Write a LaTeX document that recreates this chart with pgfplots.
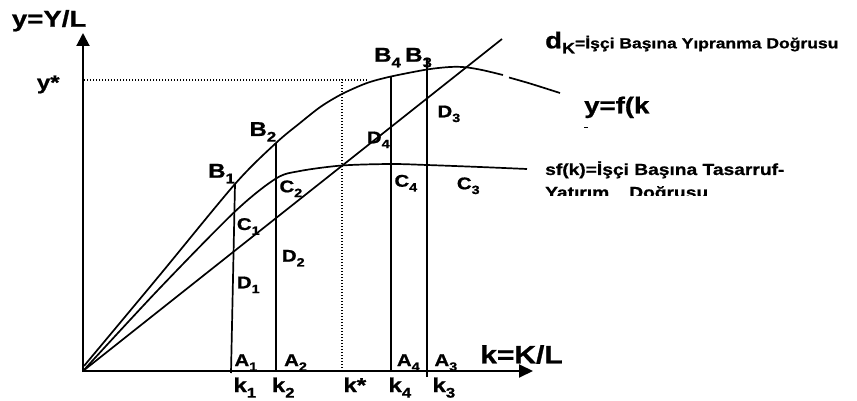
\documentclass[border=0pt]{standalone}
\usepackage{graphicx}
\usepackage{fontspec}
\setmainfont{Liberation Sans}[BoldFeatures={FakeBold=0.8}]
\usepackage{pgfplots}
\pgfplotsset{compat=1.18}
\usetikzlibrary{arrows.meta}
\tikzset{lbl/.style={inner sep=0pt, anchor=base west, font=\bfseries}}
\newcommand{\SX}[1]{\scalebox{1.2}[1]{#1}}
\newcommand{\fs}[1]{\fontsize{#1}{#1}\selectfont}
\newcommand{\sub}[2][12]{\raisebox{-0.28em}{\fontsize{#1}{#1}\selectfont #2}}
\begin{document}
\begin{tikzpicture}
\begin{axis}[
  scale only axis, width=857pt, height=401pt,
  xmin=0, xmax=857, ymin=0, ymax=401, y dir=reverse,
  hide axis, clip=false,
]
% axes
\addplot[line width=2pt, -{Triangle[length=13pt,width=13pt]}] coordinates {(83,372) (83,33)};
\addplot[line width=2pt, -{Triangle[length=14pt,width=13pt]}] coordinates {(82,371) (533,371)};
% f(k)
\addplot[line width=1.7pt, smooth, tension=0.5] coordinates {
 (84,366) (159,276) (235,184) (276,143) (300,123) (321,106.5) (342,94)
 (367,83) (391,76.5) (427,69.5) (450,67) (465,67.2) (482,70) (503,75)};
\addplot[line width=1.7pt, smooth] coordinates {(509,77.5) (530,83.5) (560,93)};
% sf(k)
\addplot[line width=1.7pt, smooth, tension=0.5] coordinates {
 (83,371) (158,290) (235,211.5) (276,178.5) (300,171) (342,165.5)
 (391,164) (427,165) (480,167) (527,169)};
% d line
\addplot[line width=1.7pt] coordinates {(83,371) (502,39)};
% verticals
\addplot[line width=1.7pt] coordinates {(231,373) (235,184)};
\addplot[line width=1.7pt] coordinates {(276,371) (276,143)};
\addplot[line width=1.7pt] coordinates {(391,371) (391,76.5)};
\addplot[line width=1.7pt] coordinates {(427,377) (427,58)};
% dotted
\addplot[line width=1.2pt, dash pattern=on 1.2pt off 1.8pt] coordinates {(84,80) (367,80)};
\addplot[line width=1.2pt, dash pattern=on 1.2pt off 1.8pt] coordinates {(342,371) (342,79)};
% tiny dash
\addplot[line width=1pt] coordinates {(584,128) (588,128)};

% labels
\node[lbl] at (axis cs:11.7,26.7) {\fs{23}\SX{y=Y/L}};
\node[lbl] at (axis cs:36.7,89.3) {\fs{20}\SX{y*}};
\node[lbl] at (axis cs:208,177.7) {\fs{20}\SX{B\sub[14]{1}}};
\node[lbl] at (axis cs:249.3,136) {\fs{20}\SX{B\sub[14]{2}}};
\node[lbl] at (axis cs:374,61.7) {\fs{20}\SX{B\sub[14]{4}}};
\node[lbl] at (axis cs:405,61.7) {\fs{20}\SX{B\sub[14]{3}}};
\node[lbl] at (axis cs:236.7,230) {\fs{17}\SX{C\sub{1}}};
\node[lbl] at (axis cs:236.7,288.3) {\fs{17}\SX{D\sub{1}}};
\node[lbl] at (axis cs:279.3,192.3) {\fs{17}\SX{C\sub{2}}};
\node[lbl] at (axis cs:281.7,261.7) {\fs{17}\SX{D\sub{2}}};
\node[lbl] at (axis cs:366.7,143.3) {\fs{17}\SX{D\sub{4}}};
\node[lbl] at (axis cs:437.3,117.3) {\fs{17}\SX{D\sub{3}}};
\node[lbl] at (axis cs:394.3,186.7) {\fs{17}\SX{C\sub{4}}};
\node[lbl] at (axis cs:456.7,189.3) {\fs{17}\SX{C\sub{3}}};
\node[lbl] at (axis cs:234.3,366) {\fs{17}\SX{A\sub{1}}};
\node[lbl] at (axis cs:284,366) {\fs{17}\SX{A\sub{2}}};
\node[lbl] at (axis cs:396.7,366) {\fs{17}\SX{A\sub{4}}};
\node[lbl] at (axis cs:434.3,366) {\fs{17}\SX{A\sub{3}}};
\node[lbl] at (axis cs:233.3,392) {\fs{20}\SX{k\sub[14]{1}}};
\node[lbl] at (axis cs:271.7,392) {\fs{20}\SX{k\sub[14]{2}}};
\node[lbl] at (axis cs:343.3,392) {\fs{20}\SX{k*}};
\node[lbl] at (axis cs:388.3,392) {\fs{20}\SX{k\sub[14]{4}}};
\node[lbl] at (axis cs:432.3,392) {\fs{20}\SX{k\sub[14]{3}}};
\node[lbl] at (axis cs:480,363.3) {\fs{25}\SX{k=K/L}};
\node[lbl] at (axis cs:545,48.3) {\fs{23}\SX{d}\raisebox{-5pt}{\fs{15}\SX{K}}\fs{14.6}\SX{=İşçi Başına Yıpranma Doğrusu}};
\node[lbl] at (axis cs:584,113.3) {\fs{23}\SX{y=f(k}};
\node[lbl] at (axis cs:545,175) {\fs{16}\SX{sf(k)=İşçi Başına Tasarruf-}};
\begin{scope}
\clip (axis cs:530,179) rectangle (axis cs:780,195);
\node[lbl] at (axis cs:545,198) {\fs{16}\SX{Yatırım}\hspace{20pt}\SX{Doğrusu}};
\end{scope}
\end{axis}
\pgfresetboundingbox
\path[use as bounding box] (current axis.south west) rectangle (current axis.north east);
\end{tikzpicture}
\end{document}
